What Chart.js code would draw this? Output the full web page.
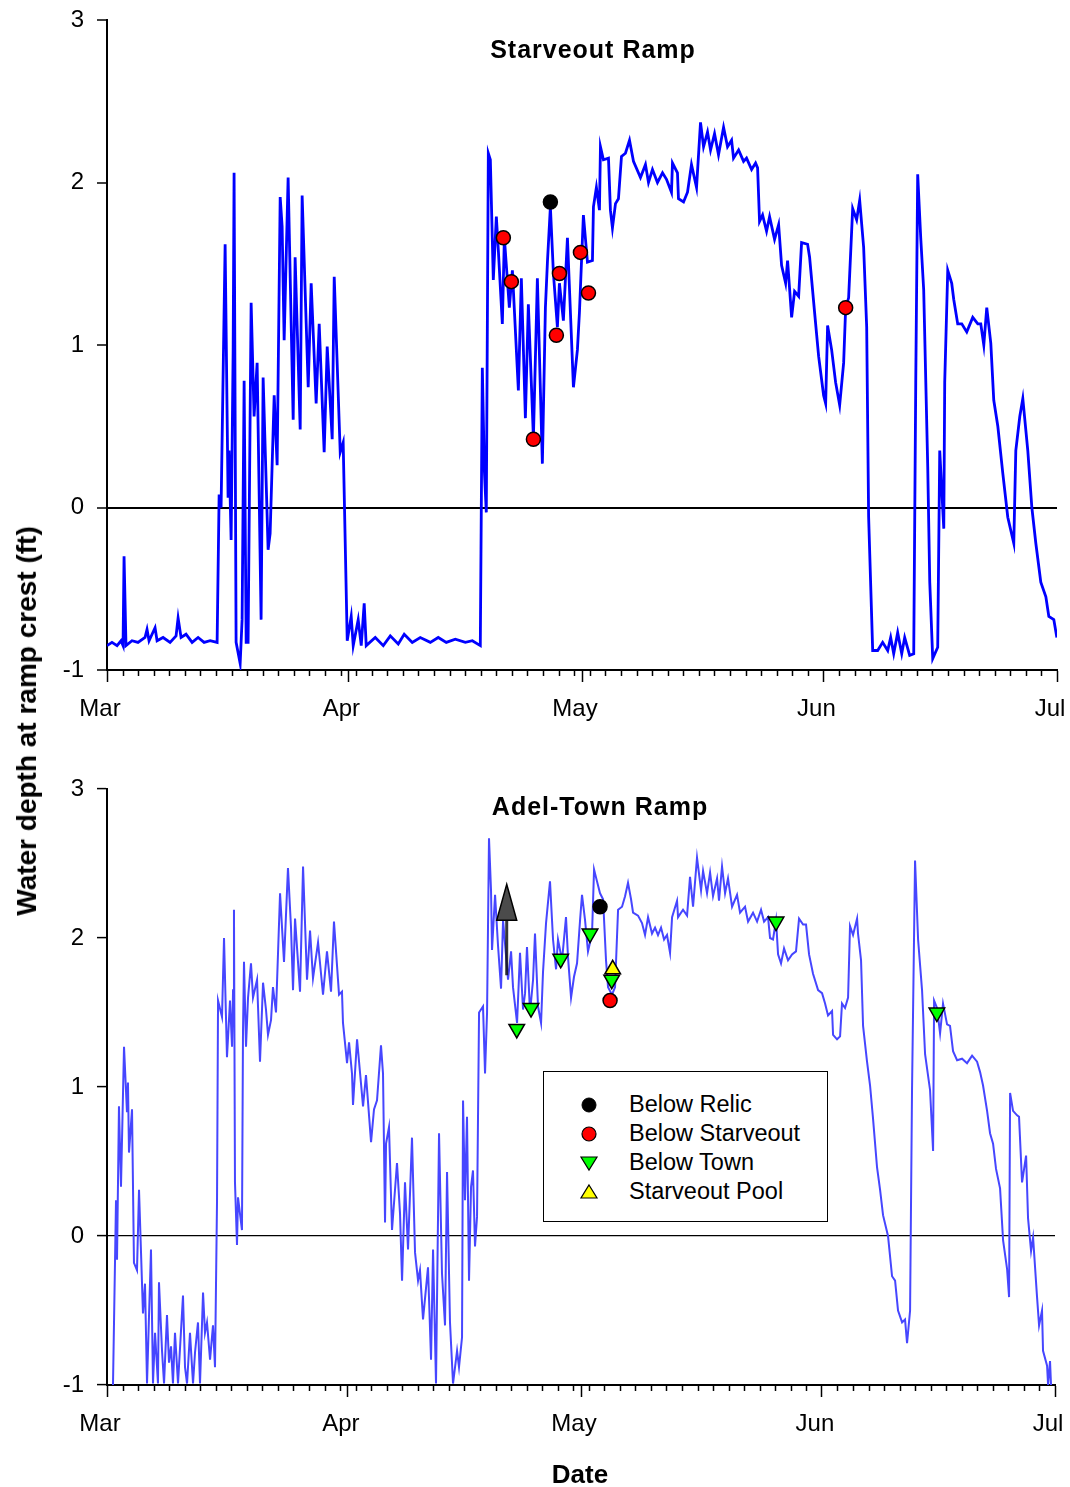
<!DOCTYPE html>
<html>
<head>
<meta charset="utf-8">
<title>Water depth at ramp crest</title>
<script src="https://cdn.jsdelivr.net/npm/chart.js@4.4.0/dist/chart.umd.min.js"></script>
<style>
  body { margin: 0; width: 1070px; height: 1487px; background: #fff; position: relative; overflow: hidden;
         font-family: "Liberation Sans", Arial, sans-serif; color: #000; }
  .panel { position: absolute; left: 0; width: 1070px; }
  #topPanel { top: 0; height: 740px; }
  #bottomPanel { top: 760px; height: 700px; }
  .title { position: absolute; font-weight: bold; font-size: 25px; letter-spacing: 1px;
           transform: translate(-50%, -50%); white-space: nowrap; }
  #ylab { position: absolute; left: 27px; top: 721px; font-weight: bold; font-size: 28px; white-space: nowrap;
          transform: translate(-50%, -50%) rotate(-90deg); }
  #xlab { position: absolute; left: 580px; top: 1474px; font-weight: bold; font-size: 26px;
          transform: translate(-50%, -50%); }
  #legend { position: absolute; left: 543px; top: 1071px; width: 285px; height: 151px; box-sizing: border-box;
            border: 1.5px solid #000; background: #fff; }
  #legend .row { position: absolute; left: 0; height: 26px; }
  #legend svg { position: absolute; left: 35px; top: 4px; }
  #legend span { position: absolute; left: 85px; top: 0; line-height: 26px; font-size: 23.5px; white-space: nowrap; }
</style>
</head>
<body>
<div class="panel" id="topPanel"><canvas id="topChart" width="1070" height="740"></canvas></div>
<div class="panel" id="bottomPanel"><canvas id="bottomChart" width="1070" height="700"></canvas></div>

<div class="title" style="left:593px; top:49px;">Starveout Ramp</div>
<div class="title" style="left:600px; top:806px;">Adel-Town Ramp</div>
<div id="ylab">Water depth at ramp crest (ft)</div>
<div id="xlab">Date</div>

<div id="legend">
  <div class="row" style="top:19px"><svg width="20" height="20"><circle cx="10" cy="10" r="7" fill="#000" stroke="#000" stroke-width="1"/></svg><span>Below Relic</span></div>
  <div class="row" style="top:48px"><svg width="20" height="20"><circle cx="10" cy="10" r="7" fill="#ff0000" stroke="#000" stroke-width="1.2"/></svg><span>Below Starveout</span></div>
  <div class="row" style="top:77px"><svg width="20" height="20"><polygon points="2,4 18,4 10,17" fill="#00ff00" stroke="#000" stroke-width="1.2"/></svg><span>Below Town</span></div>
  <div class="row" style="top:106px"><svg width="20" height="20"><polygon points="10,3 18,16 2,16" fill="#ffff00" stroke="#000" stroke-width="1.2"/></svg><span>Starveout Pool</span></div>
</div>

<script>
// x = days since Mar 1, y = water depth at ramp crest (ft)
const monthStarts = [0, 31, 61, 92, 122];
const monthNames = ['Mar', 'Apr', 'May', 'Jun', 'Jul'];
const depthTicks = [-1, 0, 1, 2, 3];

// Starveout Ramp record
const starveoutSeries = [
  [0,-0.85],[0.64,-0.83],[1.29,-0.85],[1.8,-0.82],[2.06,-0.85],[2.19,-0.30],[2.44,-0.85],[3.21,-0.82],
  [3.98,-0.83],[4.88,-0.80],[5.14,-0.75],[5.4,-0.82],[6.17,-0.74],[6.43,-0.82],[7.2,-0.80],[8.1,-0.83],
  [8.87,-0.79],[9.13,-0.68],[9.51,-0.80],[10.15,-0.78],[10.93,-0.83],[11.7,-0.80],[12.47,-0.83],[13.24,-0.82],
  [14.14,-0.83],[14.4,0.08],[14.65,0.00],[15.17,1.62],[15.55,0.06],[15.68,0.35],[15.94,-0.20],[16.2,0.97],
  [16.32,2.06],[16.58,-0.83],[17.1,-0.96],[17.35,-0.69],[17.61,0.78],[17.87,-0.83],[18.12,-0.83],[18.51,1.26],
  [18.89,0.56],[19.28,0.89],[19.79,-0.69],[20.05,0.80],[20.69,-0.26],[20.95,-0.16],[21.47,0.69],[21.85,0.26],
  [22.24,1.91],[22.49,1.73],[22.75,1.03],[23.26,2.03],[23.91,0.54],[24.16,1.54],[24.81,0.48],[25.06,1.92],
  [25.84,0.74],[26.22,1.38],[26.86,0.64],[27.25,1.13],[27.89,0.34],[28.28,0.99],[28.92,0.42],[29.18,1.42],
  [29.95,0.34],[30.33,0.40],[30.85,-0.82],[31.36,-0.67],[31.62,-0.85],[32.26,-0.69],[32.65,-0.85],[33.03,-0.59],
  [33.29,-0.85],[34.45,-0.80],[35.48,-0.85],[36.38,-0.79],[37.4,-0.84],[38.17,-0.78],[39.2,-0.83],[40.23,-0.80],
  [41.52,-0.83],[42.54,-0.80],[43.57,-0.83],[44.73,-0.81],[46.02,-0.83],[46.92,-0.82],[47.94,-0.85],[48.2,0.86],
  [48.46,0.23],[48.71,-0.03],[48.97,2.18],[49.23,2.14],[49.61,1.40],[50.0,1.79],[50.26,1.58],[50.77,1.13],
  [51.03,1.66],[51.67,1.23],[52.06,1.46],[52.83,0.72],[53.21,1.41],[53.73,0.55],[54.11,1.25],[54.76,0.43],
  [55.27,1.41],[55.91,0.27],[56.3,1.23],[56.56,1.51],[56.94,1.85],[57.33,1.44],[57.84,1.11],[58.1,1.38],
  [58.61,1.15],[59.13,1.66],[59.9,0.74],[60.41,0.97],[60.67,1.20],[61.18,1.80],[61.7,1.51],[62.34,1.52],
  [62.47,1.85],[62.85,1.97],[63.24,1.83],[63.37,2.22],[63.75,2.14],[64.4,2.15],[64.65,1.83],[64.91,1.72],
  [65.3,1.87],[65.68,1.90],[66.07,2.16],[66.58,2.18],[67.1,2.26],[67.61,2.13],[68.51,2.03],[69.15,2.11],
  [69.54,2.00],[70.05,2.08],[70.69,2.00],[71.34,2.06],[71.85,2.02],[72.49,1.94],[72.62,2.12],[73.26,2.06],
  [73.39,1.90],[74.04,1.88],[74.55,1.94],[75.06,2.11],[75.71,1.97],[76.22,2.37],[76.61,2.22],[77.12,2.31],
  [77.51,2.20],[78.02,2.30],[78.53,2.17],[79.18,2.34],[79.69,2.22],[80.21,2.26],[80.46,2.15],[81.11,2.20],
  [81.75,2.13],[82.13,2.15],[82.78,2.08],[83.29,2.12],[83.55,2.09],[83.8,1.76],[84.19,1.80],[84.7,1.70],
  [85.09,1.79],[85.73,1.65],[86.25,1.74],[86.63,1.49],[87.15,1.38],[87.4,1.52],[87.92,1.17],[88.3,1.33],
  [88.82,1.30],[89.2,1.63],[89.97,1.62],[90.23,1.54],[90.87,1.20],[91.39,0.93],[92.03,0.69],[92.29,0.64],
  [92.54,1.12],[93.06,0.97],[93.57,0.77],[94.09,0.63],[94.6,0.89],[94.86,1.23],[95.24,1.29],[95.76,1.84],
  [96.27,1.77],[96.66,1.89],[97.17,1.60],[97.56,1.11],[97.81,-0.06],[98.33,-0.88],[98.97,-0.88],[99.61,-0.83],
  [100.26,-0.88],[100.64,-0.80],[101.03,-0.90],[101.54,-0.77],[102.06,-0.90],[102.44,-0.80],[103.08,-0.91],[103.6,-0.90],
  [103.86,0.77],[104.11,2.05],[104.5,1.66],[104.88,1.34],[105.4,0.25],[105.66,-0.46],[106.04,-0.93],[106.68,-0.86],
  [106.94,0.35],[107.46,-0.13],[107.58,0.77],[107.97,1.46],[108.48,1.38],[108.74,1.28],[109.25,1.13],[109.77,1.13],
  [110.41,1.08],[111.18,1.17],[111.83,1.13],[112.21,1.13],[112.6,1.00],[112.98,1.23],[113.5,1.01],[113.88,0.66],
  [114.4,0.50],[115.04,0.21],[115.68,-0.06],[116.45,-0.22],[116.71,0.35],[117.22,0.56],[117.61,0.67],[118.25,0.35],
  [118.77,0.00],[119.28,-0.22],[119.92,-0.46],[120.57,-0.55],[120.95,-0.67],[121.59,-0.69],[121.98,-0.80]
];

// Adel-Town Ramp record
const adelSeries = [
  [0.77,-1.00],[1.16,0.24],[1.29,-0.16],[1.54,0.87],[1.8,0.33],[2.19,1.27],[2.57,0.83],[2.7,1.03],
  [2.83,0.56],[3.22,0.85],[3.47,-0.18],[3.86,-0.23],[4.12,0.31],[4.63,-0.52],[4.89,-0.32],[5.15,-0.99],
  [5.66,-0.09],[5.92,-0.99],[6.18,-0.65],[6.56,-0.99],[6.69,-0.31],[7.08,-0.77],[7.34,-0.99],[7.72,-0.53],
  [7.98,-0.85],[8.24,-0.74],[8.49,-0.99],[8.75,-0.65],[9.14,-0.99],[9.78,-0.40],[10.04,-0.88],[10.3,-0.99],
  [10.68,-0.65],[11.07,-0.99],[11.33,-0.78],[11.71,-0.58],[11.97,-0.99],[12.36,-0.38],[12.61,-0.65],[12.87,-0.58],
  [13.26,-0.83],[13.64,-0.60],[13.9,-0.88],[14.16,0.24],[14.29,1.58],[14.8,1.47],[15.06,2.00],[15.44,1.20],
  [15.83,1.58],[16.09,1.27],[16.22,1.65],[16.34,2.19],[16.47,0.36],[16.73,-0.06],[16.86,0.26],[17.37,0.04],
  [17.5,1.36],[17.63,1.84],[17.89,1.27],[18.15,1.60],[18.53,1.83],[18.79,1.60],[19.31,1.72],[19.69,1.17],
  [20.08,1.70],[20.46,1.52],[20.72,1.35],[21.11,1.45],[21.36,1.67],[21.75,1.50],[22.27,2.30],[22.78,1.84],
  [23.29,2.47],[23.68,2.07],[23.94,1.65],[24.2,2.13],[24.84,1.64],[25.23,2.48],[25.74,1.72],[26.13,2.05],
  [26.51,1.73],[27.16,1.97],[27.8,1.62],[28.31,1.91],[28.83,1.64],[29.21,2.11],[29.86,1.62],[30.24,1.64],
  [30.37,1.43],[30.89,1.16],[31.15,1.30],[31.53,1.09],[31.66,0.88],[32.18,1.32],[32.95,0.87],[33.33,1.08],
  [33.98,0.63],[34.36,0.85],[34.75,0.91],[35.26,1.28],[35.52,1.09],[35.78,0.09],[35.91,0.62],[36.29,0.73],
  [36.68,0.04],[37.32,0.49],[37.71,0.15],[37.97,-0.30],[38.35,0.36],[38.74,-0.09],[39.25,0.66],[39.64,-0.11],
  [40.03,-0.30],[40.28,-0.23],[40.67,-0.56],[41.31,-0.21],[41.7,-0.83],[41.96,-0.09],[42.34,-0.99],[42.73,0.69],
  [43.11,-0.25],[43.5,-0.60],[43.76,0.43],[44.14,-0.58],[44.53,-0.99],[45.05,-0.77],[45.3,-0.88],[45.69,-0.68],
  [45.82,0.91],[46.07,0.24],[46.33,0.80],[46.59,-0.30],[46.85,0.33],[47.1,0.44],[47.36,-0.07],[47.62,0.13],
  [47.88,1.50],[48.39,1.54],[48.65,1.09],[48.91,1.50],[49.16,2.67],[49.42,2.32],[49.55,1.92],[49.94,2.29],
  [50.32,1.95],[50.71,1.66],[50.97,2.12],[51.61,1.72],[52.0,1.91],[52.25,1.67],[52.77,1.43],[53.15,1.90],
  [53.54,1.52],[53.8,1.63],[54.05,1.94],[54.44,1.50],[54.83,1.72],[55.08,2.03],[55.47,1.54],[55.86,1.43],
  [56.11,1.77],[56.5,2.10],[57.01,2.38],[57.4,1.99],[57.79,1.79],[58.04,1.99],[58.56,1.85],[59.07,2.14],
  [59.33,1.87],[59.72,1.60],[60.1,1.74],[60.49,1.83],[60.88,2.12],[61.13,2.29],[61.52,2.12],[61.9,1.91],
  [62.42,2.03],[62.68,2.46],[63.06,2.38],[63.45,2.30],[63.84,2.26],[64.22,1.85],[64.48,1.67],[64.99,1.62],
  [65.38,1.67],[65.77,2.19],[66.28,2.21],[66.67,2.28],[67.05,2.37],[67.44,2.26],[67.7,2.17],[68.34,2.15],
  [68.85,2.10],[69.24,2.02],[69.63,2.14],[70.14,2.03],[70.53,2.07],[70.91,2.02],[71.3,2.07],[71.69,1.99],
  [72.07,2.02],[72.46,1.90],[72.72,2.14],[73.36,2.25],[73.49,2.14],[74.13,2.19],[74.65,2.15],[75.03,2.41],
  [75.42,2.21],[75.93,2.54],[76.45,2.32],[76.71,2.45],[77.22,2.30],[77.61,2.44],[77.99,2.28],[78.51,2.40],
  [78.76,2.25],[79.15,2.48],[79.54,2.30],[79.92,2.40],[80.44,2.21],[81.08,2.29],[81.47,2.17],[82.11,2.21],
  [82.5,2.11],[83.14,2.17],[83.66,2.11],[84.17,2.19],[84.56,2.11],[85.07,2.14],[85.33,2.00],[85.71,1.99],
  [86.1,2.12],[86.36,1.89],[86.74,1.83],[87.13,1.93],[87.64,1.85],[88.16,1.89],[88.67,1.91],[89.06,2.13],
  [89.58,2.09],[89.96,2.09],[90.35,1.89],[90.86,1.76],[91.51,1.65],[92.02,1.63],[92.41,1.56],[92.79,1.48],
  [93.31,1.51],[93.44,1.35],[93.95,1.32],[94.34,1.34],[94.59,1.56],[94.98,1.53],[95.37,1.60],[95.62,2.08],
  [96.01,2.02],[96.53,2.13],[96.65,2.03],[97.04,1.85],[97.3,1.41],[97.81,1.17],[98.2,1.01],[98.58,0.79],
  [99.1,0.46],[99.49,0.31],[99.87,0.14],[100.51,0.00],[101.03,-0.27],[101.42,-0.30],[101.8,-0.50],[102.32,-0.58],
  [102.7,-0.56],[102.96,-0.72],[103.35,-0.50],[103.6,0.98],[103.99,2.52],[104.38,1.99],[104.89,1.65],[105.28,1.22],
  [105.92,0.98],[106.31,0.57],[106.44,1.58],[106.82,1.53],[107.21,1.36],[107.59,1.56],[108.11,1.42],[108.49,1.41],
  [108.88,1.24],[109.4,1.18],[110.04,1.19],[110.68,1.16],[111.33,1.21],[111.97,1.17],[112.36,1.10],[112.74,1.01],
  [113.26,0.84],[113.64,0.69],[114.03,0.62],[114.41,0.45],[114.93,0.32],[115.32,-0.03],[115.83,-0.22],[116.09,-0.41],
  [116.22,0.96],[116.6,0.84],[117.12,0.81],[117.37,0.80],[117.76,0.36],[118.28,0.54],[118.53,0.12],[118.92,-0.10],
  [119.18,-0.01],[119.69,-0.41],[119.95,-0.60],[120.33,-0.50],[120.46,-0.77],[120.98,-0.87],[121.11,-1.00],[121.36,-0.84],
  [121.49,-1.00]
];

// fish observations, [day, depth]
const topBelowRelic = [[56.94, 1.88]];
const topBelowStarveout = [[50.9, 1.66], [51.93, 1.39], [54.76, 0.42], [57.71, 1.06], [58.1, 1.44], [60.8, 1.57], [61.83, 1.32], [94.86, 1.23]];
const botBelowRelic = [[63.45, 2.21]];
const botBelowStarveout = [[64.74, 1.58]];
const botBelowTown = [[52.73, 1.39], [54.57, 1.53], [58.39, 1.86], [62.16, 2.03], [64.95, 1.72], [86.1, 2.11], [106.8, 1.50]];
const botStarveoutPool = [[65.08, 1.79]];

// arrow on the Adel-Town panel
const arrowDay = 51.44;
const arrowFrom = 1.75;
const arrowTo = 2.36;

const FONT = "'Liberation Sans', Arial, sans-serif";
const toXY = arr => arr.map(p => ({ x: p[0], y: p[1] }));

// small ticks every second day along the date axis
const minorTicks = {
  id: 'minorTicks',
  afterDraw(chart) {
    const xs = chart.scales.x;
    const ctx = chart.ctx;
    const y0 = chart.chartArea.bottom;
    ctx.save();
    ctx.strokeStyle = '#000';
    ctx.lineWidth = 1.5;
    for (let d = 0; d <= 122; d += 2) {
      if (monthStarts.includes(d)) continue;
      const px = Math.round(xs.getPixelForValue(d)) + 0.5;
      ctx.beginPath();
      ctx.moveTo(px, y0);
      ctx.lineTo(px, y0 + 6);
      ctx.stroke();
    }
    ctx.restore();
  }
};

const arrowPlugin = {
  id: 'arrow',
  afterDatasetsDraw(chart) {
    const xs = chart.scales.x, ys = chart.scales.y, ctx = chart.ctx;
    const px = xs.getPixelForValue(arrowDay);
    const yFrom = ys.getPixelForValue(arrowFrom);
    const yTo = ys.getPixelForValue(arrowTo);
    const headH = 36, headW = 10;
    ctx.save();
    ctx.strokeStyle = 'rgba(20,20,20,0.85)';
    ctx.lineWidth = 3;
    ctx.beginPath();
    ctx.moveTo(px, yFrom);
    ctx.lineTo(px, yTo + headH);
    ctx.stroke();
    ctx.beginPath();
    ctx.moveTo(px, yTo);
    ctx.lineTo(px - headW, yTo + headH);
    ctx.lineTo(px + headW, yTo + headH);
    ctx.closePath();
    ctx.fillStyle = 'rgba(30,30,30,0.8)';
    ctx.fill();
    ctx.strokeStyle = '#000';
    ctx.lineWidth = 1.5;
    ctx.stroke();
    ctx.restore();
  }
};

function markerSet(points, style, color, radius, rotation) {
  return {
    type: 'scatter',
    data: toXY(points),
    pointStyle: style,
    pointRadius: radius,
    pointRotation: rotation || 0,
    pointBackgroundColor: color,
    pointBorderColor: '#000',
    pointBorderWidth: 1.5,
    showLine: false,
    order: 1
  };
}

function makeOptions(pad, xHeight, zeroWidth) {
  return {
    responsive: false,
    animation: false,
    events: [],
    layout: { padding: pad },
    plugins: { legend: { display: false }, tooltip: { enabled: false } },
    scales: {
      x: {
        type: 'linear',
        min: 0,
        max: 122,
        afterBuildTicks: s => { s.ticks = monthStarts.map(v => ({ value: v })); },
        afterFit: s => { s.height = xHeight; s.paddingLeft = 0; s.paddingRight = 0; },
        ticks: {
          autoSkip: false,
          maxRotation: 0,
          padding: 13,
          labelOffset: -7,
          color: '#000',
          font: { family: FONT, size: 24 },
          callback: v => monthNames[monthStarts.indexOf(v)]
        },
        grid: { drawOnChartArea: false, tickLength: 12, tickColor: '#000', tickWidth: 1.5 },
        border: { color: '#000', width: 2 }
      },
      y: {
        min: -1,
        max: 3,
        afterBuildTicks: s => { s.ticks = depthTicks.map(v => ({ value: v })); },
        afterFit: s => { s.width = 107; s.paddingTop = 0; s.paddingBottom = 0; },
        ticks: { padding: 13, color: '#000', font: { family: FONT, size: 24 } },
        grid: {
          drawOnChartArea: true,
          color: c => (c.tick && c.tick.value === 0) ? '#000' : 'rgba(0,0,0,0)',
          lineWidth: zeroWidth,
          tickColor: '#000',
          tickWidth: 1.5,
          tickLength: 10
        },
        border: { color: '#000', width: 2 }
      }
    }
  };
}

new Chart(document.getElementById('topChart'), {
  type: 'line',
  data: {
    datasets: [
      markerSet(topBelowRelic, 'circle', '#000000', 7),
      markerSet(topBelowStarveout, 'circle', '#ff0000', 7),
      {
        label: 'Starveout Ramp',
        data: toXY(starveoutSeries),
        borderColor: '#0000ff',
        borderWidth: 2.8,
        pointRadius: 0,
        tension: 0,
        order: 10
      }
    ]
  },
  options: makeOptions({ left: 0, right: 13, top: 20, bottom: 0 }, 70, 2),
  plugins: [minorTicks]
});

new Chart(document.getElementById('bottomChart'), {
  type: 'line',
  data: {
    datasets: [
      markerSet(botBelowRelic, 'circle', '#000000', 7),
      markerSet(botBelowStarveout, 'circle', '#ff0000', 7),
      markerSet(botBelowTown, 'triangle', '#00ff00', 9, 180),
      markerSet(botStarveoutPool, 'triangle', '#ffff00', 9, 0),
      {
        label: 'Adel-Town Ramp',
        data: toXY(adelSeries),
        borderColor: '#4646ff',
        borderWidth: 2,
        pointRadius: 0,
        tension: 0,
        order: 10
      }
    ]
  },
  options: makeOptions({ left: 0, right: 15, top: 29, bottom: 0 }, 75, 1.2),
  plugins: [minorTicks, arrowPlugin]
});
</script>
</body>
</html>
